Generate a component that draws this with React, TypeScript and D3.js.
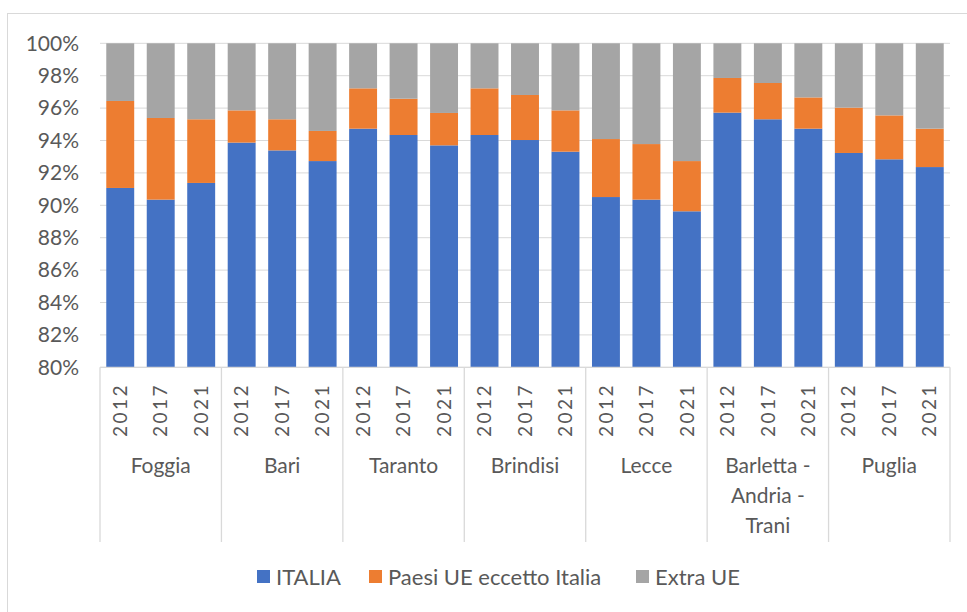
import { useEffect, useRef } from 'react'
import * as d3 from 'd3'

const provinces = ['Foggia', 'Bari', 'Taranto', 'Brindisi', 'Lecce', 'Barletta - Andria - Trani', 'Puglia']
const provinceLines = [['Foggia'], ['Bari'], ['Taranto'], ['Brindisi'], ['Lecce'], ['Barletta -', 'Andria -', 'Trani'], ['Puglia']]
const years = ['2012', '2017', '2021']
const seriesNames = ['ITALIA', 'Paesi UE eccetto Italia', 'Extra UE']
const seriesColors = ['#4472c4', '#ed7d31', '#a5a5a5']

// percent share, one value per province x year
const italia = [
  91.07, 90.35, 91.38,
  93.87, 93.39, 92.73,
  94.73, 94.34, 93.70,
  94.34, 94.03, 93.31,
  90.51, 90.35, 89.63,
  95.72, 95.31, 94.73,
  93.23, 92.84, 92.36,
]
const paesiUE = [
  5.37, 5.04, 3.93,
  1.99, 1.92, 1.86,
  2.49, 2.24, 2.00,
  2.88, 2.78, 2.55,
  3.58, 3.43, 3.10,
  2.14, 2.24, 1.93,
  2.80, 2.71, 2.37,
]
const extraUE = italia.map((v, i) => +(100 - v - paesiUE[i]).toFixed(2))

const yTicks = [80, 82, 84, 86, 88, 90, 92, 94, 96, 98, 100]

export default function App() {
  const svgRef = useRef<SVGSVGElement>(null)

  useEffect(() => {
    if (!svgRef.current) return
    const svg = d3.select(svgRef.current)
    svg.selectAll('*').remove()

    const W = 967
    const H = 612
    const left = 100
    const right = 950
    const top = 43.3
    const bottom = 367.3
    const catBottom = 542
    const textColor = '#595959'
    const font = 'Lato, "Open Sans", sans-serif'

    svg.append('rect')
      .attr('x', 7.5).attr('y', 13.5)
      .attr('width', W).attr('height', H)
      .attr('fill', '#fff')
      .attr('stroke', '#d9d9d9')

    const rows = provinces.flatMap((p, pi) => years.map((yr, yi) => ({
      key: `${pi}-${yr}`,
      province: p,
      year: yr,
      italia: italia[pi * 3 + yi],
      ue: paesiUE[pi * 3 + yi],
      extra: extraUE[pi * 3 + yi],
    })))

    const x = d3.scaleBand<string>()
      .domain(rows.map(d => d.key))
      .range([left, right])
      .paddingInner(0.31)
      .paddingOuter(0.155)

    const y = d3.scaleLinear().domain([80, 100]).range([bottom, top])

    // gridlines
    svg.append('g')
      .selectAll('line')
      .data(yTicks)
      .join('line')
      .attr('x1', left).attr('x2', right)
      .attr('y1', d => y(d)).attr('y2', d => y(d))
      .attr('stroke', '#d9d9d9')
      .attr('stroke-width', 1)

    const stack = d3.stack<any>().keys(['italia', 'ue', 'extra'])
    const series = stack(rows)

    svg.append('g')
      .selectAll('g')
      .data(series)
      .join('g')
      .attr('fill', (_, i) => seriesColors[i])
      .selectAll('rect')
      .data(d => d)
      .join('rect')
      .attr('x', d => x(d.data.key)!)
      .attr('width', x.bandwidth())
      .attr('y', d => y(Math.min(d[1], 100)))
      .attr('height', d => y(Math.max(d[0], 80)) - y(Math.min(d[1], 100)))

    // y axis labels
    svg.append('g')
      .selectAll('text')
      .data(yTicks)
      .join('text')
      .attr('x', 79)
      .attr('y', d => y(d))
      .attr('dy', '0.35em')
      .attr('text-anchor', 'end')
      .attr('fill', textColor)
      .attr('font-family', font)
      .attr('font-size', 21)
      .text(d => `${d}%`)

    // category axis
    const cat = svg.append('g').attr('stroke', '#d9d9d9').attr('stroke-width', 1.3)
    cat.append('line')
      .attr('x1', left).attr('x2', right)
      .attr('y1', bottom).attr('y2', bottom)
    const groupW = (right - left) / provinces.length
    d3.range(provinces.length + 1).forEach(i => {
      cat.append('line')
        .attr('x1', left + i * groupW).attr('x2', left + i * groupW)
        .attr('y1', bottom).attr('y2', catBottom)
    })

    svg.append('g')
      .selectAll('text')
      .data(rows)
      .join('text')
      .attr('transform', d => `translate(${x(d.key)! + x.bandwidth() / 2},410) rotate(-90)`)
      .attr('text-anchor', 'middle')
      .attr('dy', '0.35em')
      .attr('fill', textColor)
      .attr('font-family', font)
      .attr('font-size', 19)
      .attr('letter-spacing', 2.5)
      .text(d => d.year)

    provinceLines.forEach((lines, i) => {
      const cx = left + (i + 0.5) * groupW
      lines.forEach((ln, j) => {
        svg.append('text')
          .attr('x', cx)
          .attr('y', 466 + j * 30)
          .attr('dy', '0.35em')
          .attr('text-anchor', 'middle')
          .attr('fill', textColor)
          .attr('font-family', font)
          .attr('font-size', 21)
          .text(ln)
      })
    })

    // legend
    const legendX = [257, 369, 636]
    const lg = svg.append('g')
    seriesNames.forEach((name, i) => {
      lg.append('rect')
        .attr('x', legendX[i]).attr('y', 570)
        .attr('width', 13).attr('height', 13)
        .attr('fill', seriesColors[i])
      lg.append('text')
        .attr('x', legendX[i] + 19)
        .attr('y', 577)
        .attr('dy', '0.35em')
        .attr('fill', textColor)
        .attr('font-family', font)
        .attr('font-size', 22)
        .text(name)
    })
  }, [])

  return (
    <svg
      ref={svgRef}
      width={967}
      height={612}
      style={{ position: 'absolute', left: 0, top: 0, display: 'block' }}
    />
  )
}
